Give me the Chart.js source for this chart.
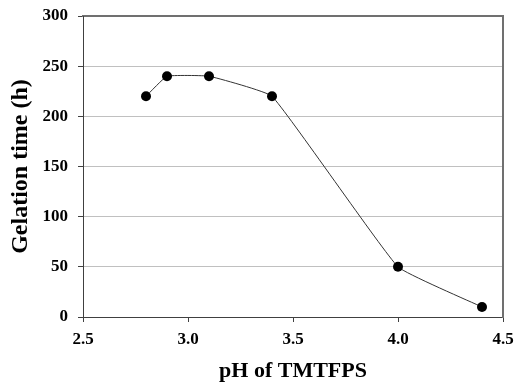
<!DOCTYPE html>
<html>
<head>
<meta charset="utf-8">
<script src="https://cdn.jsdelivr.net/npm/chart.js@4/dist/chart.umd.min.js"></script>
<style>
  html, body { margin: 0; padding: 0; background: #fff; }
  canvas { display: block; }
</style>
</head>
<body>
<canvas id="gel-chart" width="514" height="390"></canvas>
<script>
const phValues = [2.8, 2.9, 3.1, 3.4, 4.0, 4.4];
const gelationHours = [220, 240, 240, 220, 50, 10];
const xTitle = 'pH of TMTFPS';
const yTitle = 'Gelation time (h)';

const serif = '"Liberation Serif", "Times New Roman", serif';

const points = phValues.map((x, i) => ({ x: x, y: gelationHours[i] }));

const config = {
  type: 'line',
  data: {
    datasets: [
      {
        data: points,
        borderColor: '#333333',
        borderWidth: 1,
        tension: 0.1,
        pointRadius: 5,
        pointBackgroundColor: '#000',
        pointBorderColor: '#000',
        pointBorderWidth: 0,
      },
    ],
  },
  options: {
    responsive: false,
    animation: false,
    layout: {
      padding: { top: 16, right: 11, left: 0, bottom: 0 },
    },
    plugins: {
      legend: { display: false },
      tooltip: { enabled: false },
    },
    scales: {
      x: {
        type: 'linear',
        position: 'bottom',
        min: 2.5,
        max: 4.5,
        afterFit(scale) {
          scale.height = 73;
          scale.paddingLeft = 0;
          scale.paddingRight = 0;
        },
        ticks: {
          stepSize: 0.5,
          padding: 7,
          color: '#000',
          font: { family: serif, size: 17, weight: 'bold' },
          callback: (v) => v.toFixed(1),
          maxRotation: 0,
        },
        grid: {
          drawOnChartArea: false,
          tickLength: 5,
          tickColor: '#404040',
        },
        border: { color: '#404040', width: 1 },
        title: {
          display: true,
          text: xTitle,
          color: '#000',
          padding: { top: 0, bottom: 5 },
          font: { family: serif, size: 22, weight: 'bold' },
        },
      },
      x2: {
        type: 'linear',
        position: 'top',
        min: 2.5,
        max: 4.5,
        afterFit(scale) {
          scale.height = 0;
          scale.paddingLeft = 0;
          scale.paddingRight = 0;
        },
        ticks: { display: false },
        grid: { display: false },
        border: { color: '#707070', width: 2 },
      },
      y: {
        position: 'left',
        min: 0,
        max: 300,
        afterFit(scale) {
          scale.width = 83;
          scale.paddingTop = 0;
          scale.paddingBottom = 0;
        },
        ticks: {
          stepSize: 50,
          padding: 10,
          color: '#000',
          font: { family: serif, size: 17, weight: 'bold' },
        },
        grid: {
          color: (ctx) => (ctx.tick && ctx.tick.value === 300 ? '#707070' : '#c0c0c0'),
          tickLength: 5,
          tickColor: '#404040',
        },
        border: { color: '#404040', width: 1 },
        title: {
          display: true,
          text: yTitle,
          color: '#000',
          padding: { top: 6, bottom: 0 },
          font: { family: serif, size: 24, weight: 'bold' },
        },
      },
      y2: {
        position: 'right',
        min: 0,
        max: 300,
        afterFit(scale) {
          scale.width = 0;
          scale.paddingTop = 0;
          scale.paddingBottom = 0;
        },
        ticks: { display: false },
        grid: { display: false },
        border: { color: '#707070', width: 2 },
      },
    },
  },
};

const canv = document.querySelector('#gel-chart');
const gelChart = new Chart(canv, config);
</script>
</body>
</html>
